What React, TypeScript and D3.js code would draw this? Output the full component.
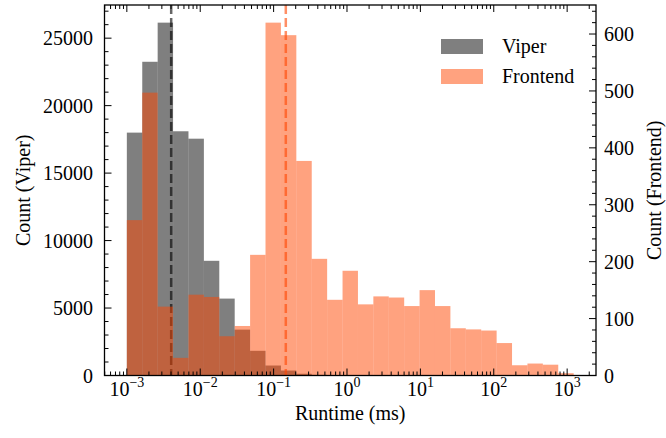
import React from 'react';
import * as d3 from 'd3';

// histogram bins: 29 log-spaced bins from 1e-3 ms
const binCount = 29;
const binLogMin = -3;
const binLogMax = 3.0887;

const viperCounts = [18000, 23250, 26150, 18100, 17550, 8500, 5700, 3400, 1830, 740, 370, 130, 50, 20, 10,
  0, 0, 0, 0, 0, 0, 0, 0, 0, 0, 0, 0, 0, 0];
const frontendCounts = [273, 497, 121, 31, 142, 138, 69, 87, 212, 620, 598, 377, 205, 133, 184, 125, 139, 137,
  122, 150, 122, 83, 81, 79, 57, 18, 21, 19, 4];

const viperMean = 0.00402;
const frontendMean = 0.1466;

const leftTicks = [0, 5000, 10000, 15000, 20000, 25000];
const rightTicks = [0, 100, 200, 300, 400, 500, 600];
const xDecades = [-3, -2, -1, 0, 1, 2, 3];

const W = 666;
const H = 438;
const left = 104.5, right = 596, top = 5, bottom = 375.5;
const FONT = '"Liberation Serif", "Times New Roman", serif';
const fs = 20;

export default function App() {
  const edges = d3.range(binCount + 1).map(k => Math.pow(10, binLogMin + k * (binLogMax - binLogMin) / binCount));
  const margin = (binLogMax - binLogMin) * 0.05;
  const x = d3.scaleLog()
    .domain([Math.pow(10, binLogMin - margin), Math.pow(10, binLogMax + margin)])
    .range([left, right]);
  const yL = d3.scaleLinear().domain([0, d3.max(viperCounts)! * 1.05]).range([bottom, top]);
  const yR = d3.scaleLinear().domain([0, d3.max(frontendCounts)! * 1.05]).range([bottom, top]);

  const xMinor = x.ticks().filter(t => Math.abs(Math.log10(t) - Math.round(Math.log10(t))) > 1e-6);
  const leftMinor = d3.range(0, yL.domain()[1], 1000).filter(v => v % 5000 !== 0);
  const rightMinor = d3.range(0, yR.domain()[1], 20).filter(v => v % 100 !== 0);

  const major = 7, minor = 4;

  return (
    <svg width={W} height={H} style={{ position: 'absolute', left: 0, top: 0, background: '#fff' }}
      fontFamily={FONT}>
      {/* Viper bars */}
      {viperCounts.map((v, i) => v > 0 && (
        <rect key={'v' + i} x={x(edges[i])} width={x(edges[i + 1]) - x(edges[i])}
          y={yL(v)} height={bottom - yL(v)} fill="#000" fillOpacity={0.5} />
      ))}
      <line x1={x(viperMean)} x2={x(viperMean)} y1={top} y2={bottom}
        stroke="#000" strokeOpacity={0.6} strokeWidth={2.5} strokeDasharray="9,4" />
      {/* Frontend bars */}
      {frontendCounts.map((v, i) => v > 0 && (
        <rect key={'f' + i} x={x(edges[i])} width={x(edges[i + 1]) - x(edges[i])}
          y={yR(v)} height={bottom - yR(v)} fill="orangered" fillOpacity={0.5} />
      ))}
      <line x1={x(frontendMean)} x2={x(frontendMean)} y1={top} y2={bottom}
        stroke="orangered" strokeOpacity={0.6} strokeWidth={2.5} strokeDasharray="9,4" />

      {/* ticks, all pointing inward */}
      <g stroke="#000" strokeWidth={1}>
        {xDecades.map(d => {
          const px = x(Math.pow(10, d));
          return <g key={'xm' + d}>
            <line x1={px} x2={px} y1={bottom} y2={bottom - major} />
            <line x1={px} x2={px} y1={top} y2={top + major} />
          </g>;
        })}
        {xMinor.map((t, i) => {
          const px = x(t);
          return <g key={'xn' + i}>
            <line x1={px} x2={px} y1={bottom} y2={bottom - minor} />
            <line x1={px} x2={px} y1={top} y2={top + minor} />
          </g>;
        })}
        {leftTicks.map(v => <line key={'lm' + v} x1={left} x2={left + major} y1={yL(v)} y2={yL(v)} />)}
        {leftMinor.map(v => <line key={'ln' + v} x1={left} x2={left + minor} y1={yL(v)} y2={yL(v)} />)}
        {rightTicks.map(v => <line key={'rm' + v} x1={right} x2={right - major} y1={yR(v)} y2={yR(v)} />)}
        {rightMinor.map(v => <line key={'rn' + v} x1={right} x2={right - minor} y1={yR(v)} y2={yR(v)} />)}
      </g>
      <rect x={left} y={top} width={right - left} height={bottom - top} fill="none" stroke="#000" strokeWidth={1.3} />

      {/* tick labels */}
      <g fontSize={fs} fill="#000">
        {xDecades.map(d => (
          <text key={'xl' + d} x={x(Math.pow(10, d))} y={396} textAnchor="middle">
            10<tspan dy={-9} fontSize={14}>{d < 0 ? '\u2212' + Math.abs(d) : String(d)}</tspan>
          </text>
        ))}
        {leftTicks.map(v => (
          <text key={'ll' + v} x={93} y={yL(v) + 7} textAnchor="end">{v}</text>
        ))}
        {rightTicks.map(v => (
          <text key={'rl' + v} x={604} y={yR(v) + 7} textAnchor="start">{v}</text>
        ))}
        <text x={(left + right) / 2} y={420} textAnchor="middle">Runtime (ms)</text>
        <text transform={`translate(30,${(top + bottom) / 2}) rotate(-90)`} textAnchor="middle">Count (Viper)</text>
        <text transform={`translate(661,${(top + bottom) / 2}) rotate(-90)`} textAnchor="middle">Count (Frontend)</text>
      </g>

      {/* legend */}
      <g fontSize={fs}>
        <rect x={441} y={39} width={42} height={15} fill="#000" fillOpacity={0.5} />
        <text x={502} y={53}>Viper</text>
        <rect x={441} y={69} width={42} height={15} fill="orangered" fillOpacity={0.5} />
        <text x={502} y={83}>Frontend</text>
      </g>
    </svg>
  );
}
